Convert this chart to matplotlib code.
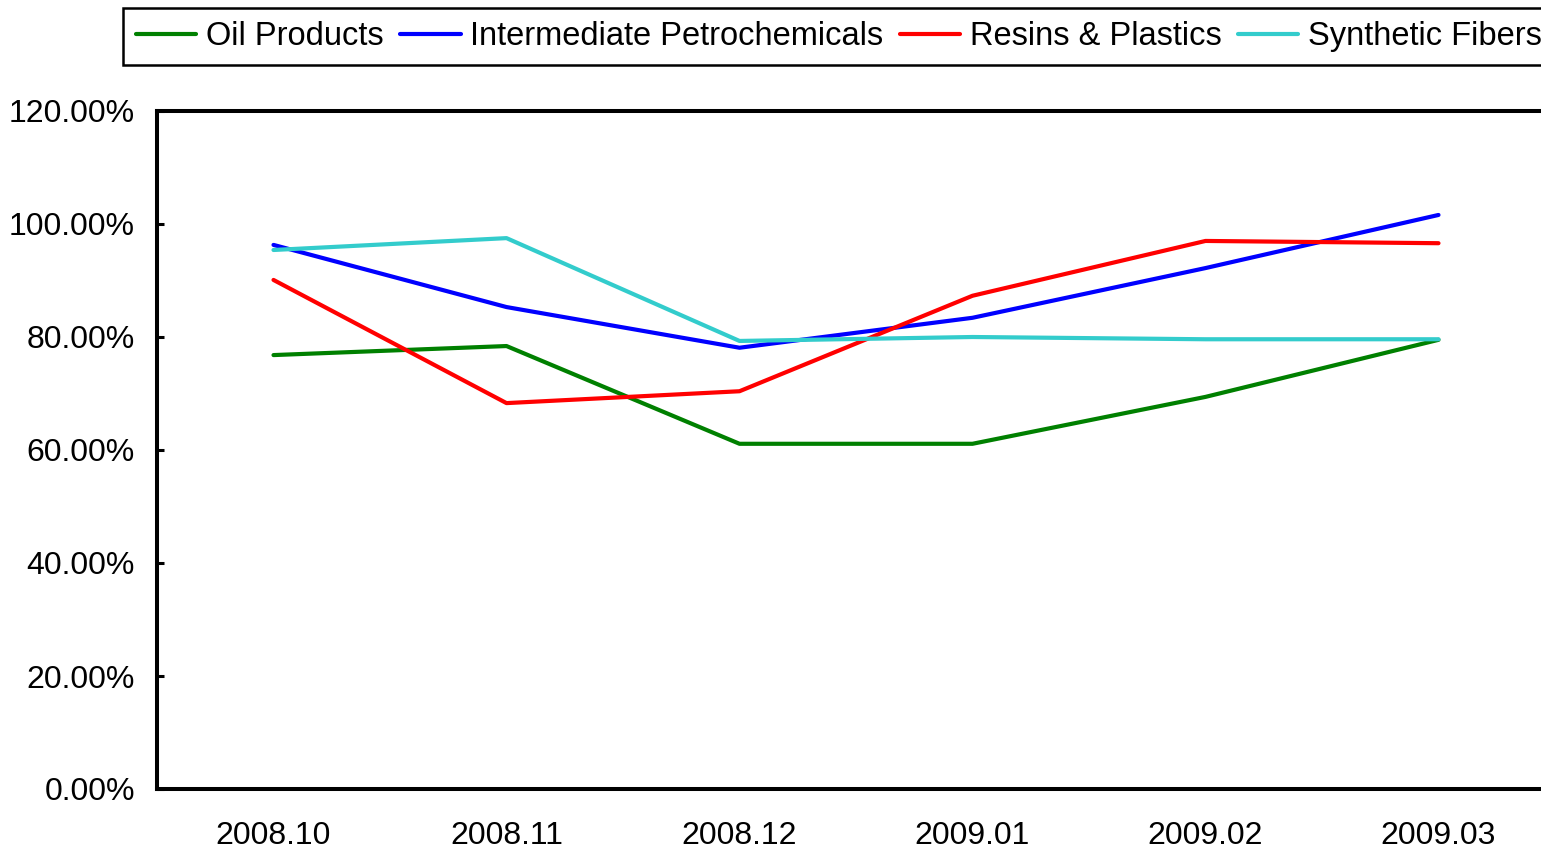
import matplotlib
matplotlib.use("Agg")
import matplotlib.pyplot as plt
from matplotlib.ticker import FuncFormatter, MultipleLocator

months = ["2008.10", "2008.11", "2008.12", "2009.01", "2009.02", "2009.03"]
oil_products = [76.8, 78.4, 61.1, 61.1, 69.4, 79.5]
intermediate_petrochemicals = [96.3, 85.3, 78.1, 83.4, 92.2, 101.6]
resins_plastics = [90.1, 68.3, 70.4, 87.3, 97.0, 96.6]
synthetic_fibers = [95.4, 97.5, 79.3, 80.0, 79.6, 79.6]

series = [
    ("Oil Products", oil_products, "#008000"),
    ("Intermediate Petrochemicals", intermediate_petrochemicals, "#0000FF"),
    ("Resins & Plastics", resins_plastics, "#FF0000"),
    ("Synthetic Fibers", synthetic_fibers, "#33CCCC"),
]

plt.rcParams["font.family"] = ["Liberation Sans", "DejaVu Sans"]
FS = 23

W, H = 1541, 851
fig = plt.figure(figsize=(W / 100, H / 100), dpi=100)
ax = fig.add_axes([157 / W, (H - 789) / H, (1555 - 157) / W, (789 - 111) / H])

x = list(range(len(months)))
handles = []
for name, vals, col in series:
    h, = ax.plot(x, vals, color=col, lw=3.0, label=name, solid_capstyle="round",
                 solid_joinstyle="round", clip_on=False)
    handles.append(h)

ax.set_xlim(-0.5, len(months) - 0.5)
ax.set_ylim(0, 120)
ax.yaxis.set_major_locator(MultipleLocator(20))
ax.yaxis.set_major_formatter(FuncFormatter(lambda v, p: f"{v:.2f}%"))
ax.set_xticks(x)
ax.set_xticklabels(months)

for s in ax.spines.values():
    s.set_linewidth(2.9)
    s.set_color("black")

ax.tick_params(axis="y", direction="in", length=5, width=2.2, labelsize=FS, pad=16)
ax.tick_params(axis="x", length=0, labelsize=FS, pad=23)

leg = fig.legend(handles=handles, loc="upper left",
                 bbox_to_anchor=(123 / W, 1 - 8 / H), ncol=4, frameon=True,
                 fontsize=23.5, handlelength=1.85, handletextpad=0.3,
                 columnspacing=0.5, borderpad=0.4, borderaxespad=0,
                 fancybox=False, framealpha=1)
leg.get_frame().set_edgecolor("black")
leg.get_frame().set_linewidth(1.8)

fig.savefig("out.png", dpi=100)
